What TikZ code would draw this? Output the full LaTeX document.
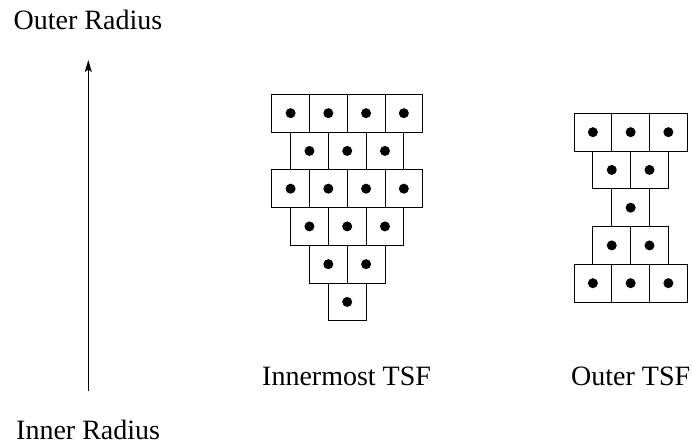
\documentclass[tikz,border=0pt]{standalone}
\usepackage{fontspec}
\setmainfont{Liberation Serif}
\usetikzlibrary{arrows.meta}
\begin{document}
\begin{tikzpicture}[x=1pt,y=-1pt,
  cell/.style={draw,line width=0.9pt,minimum size=37.75pt,inner sep=0pt,outer sep=0pt},
  dotmark/.style={fill=black},
  lbl/.style={anchor=base west,inner sep=0pt,font=\fontsize{28}{32}\selectfont},
  axis/.style={line width=1.3pt,-{Stealth[length=12pt,width=7pt,inset=2.5pt]}}]
\useasboundingbox (0,0) rectangle (692,447);
% Innermost TSF: rows given as (offset in half cells / number of cells)
\foreach \off/\n [count=\r] in {0/4,1/3,0/4,1/3,2/2,3/1}{
  \foreach \c in {1,...,\n}{
    \node[cell] (in-\r-\c) at ({271.7+\off*18.875+(\c-0.5)*37.75},{94.3+(\r-0.5)*37.75}) {};
    \fill[dotmark] (in-\r-\c.center) circle (5);
  }
}
% Outer TSF
\foreach \off/\n [count=\r] in {0/3,1/2,2/1,1/2,0/3}{
  \foreach \c in {1,...,\n}{
    \node[cell] (out-\r-\c) at ({574+\off*18.875+(\c-0.5)*37.75},{113.3+(\r-0.5)*37.75}) {};
    \fill[dotmark] (out-\r-\c.center) circle (5);
  }
}
% radius axis
\coordinate (inner) at (88.3,391);
\coordinate (outer) at (88.3,60);
\draw[axis] (inner) -- (outer);
% labels
\node[lbl] (outerlbl) at (13.5,29.5) {Outer Radius};
\node[lbl] (innerlbl) at (16,439) {Inner Radius};
\node[lbl] (innermost) at (262,385) {Innermost TSF};
\node[lbl] (outertsf) at (571,385) {Outer TSF};
\end{tikzpicture}
\end{document}
